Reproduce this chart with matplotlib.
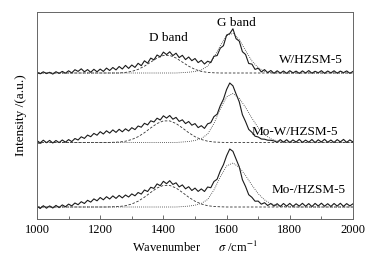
import numpy as np
import matplotlib
matplotlib.use("Agg")
import matplotlib.pyplot as plt

plt.rcParams['font.family'] = ['Liberation Serif', 'DejaVu Serif']
plt.rcParams['mathtext.fontset'] = 'stix'

# Raman spectra, wavenumber 1000-2000 cm-1, step 10 (relative to each baseline)
wavenumber = np.arange(1000, 2001, 10)

w_hzsm5 = [0.9, -0.8, 1.2, -0.6, 0.7, -1.1, 1.3, -0.4, 1.6, -0.2,
           2.2, 0.1, 3.3, 1.6, 4.2, 1.2, 3.4, 0.7, 3.7, 1.2,
           3.9, 1.6, 4.9, 2.5, 5.5, 3.1, 6.5, 4.0, 7.6, 4.6,
           8.0, 5.6, 9.7, 7.3, 12.2, 9.8, 14.9, 13.1, 18.0, 16.1,
           20.9, 18.4, 21.2, 17.4, 19.8, 15.4, 17.7, 13.4, 16.0, 12.3,
           14.5, 10.4, 12.6, 9.0, 11.8, 10.4, 16.8, 17.4, 24.8, 27.3,
           37.9, 39.4, 44.2, 34.3, 31.9, 21.3, 18.5, 9.5, 8.9, 3.6,
           4.8, 1.1, 3.4, 0.3, 2.5, -0.3,
           2.2, -0.1, 2.0, -0.3, 2.3, 0.1, 1.9, -0.4, 2.1, 0.0, 2.4, -0.2, 1.7,
           0.2, 2.3, -0.3, 2.0, 0.1, 2.2, -0.2, 1.9, 0.3, 2.1, -0.3, 1.6]

mow_hzsm5 = [1.9, -0.4, 2.3, -0.2, 2.1, -0.5, 2.0, -0.1, 2.5, 0.3,
             2.9, 0.9, 4.0, 2.5, 5.7, 4.1, 7.4, 5.8, 9.1, 7.3,
             10.8, 8.5, 11.7, 9.4, 12.6, 10.1, 13.2, 10.7, 13.7, 11.5,
             14.8, 12.9, 16.5, 15.3, 19.2, 17.6, 21.7, 20.5, 24.3, 22.5,
             26.7, 24.4, 27.0, 23.3, 25.1, 21.1, 22.7, 18.9, 21.0, 17.3,
             18.9, 14.9, 16.8, 14.1, 18.7, 19.8, 25.9, 28.3, 36.8, 43.3,
             53.0, 59.5, 56.7, 48.5, 40.7, 27.8, 20.9, 13.1, 10.2, 6.3,
             5.5, 3.5, 3.3, 2.3, 2.2, 1.6,
             0.2, 2.9, 0.3, 2.8, 0.0, 2.6, 0.4, 3.1, 0.1, 2.4, 0.3, 3.0, -0.1,
             2.7, 0.5, 3.2, 0.2, 2.5, 0.0, 2.9, 0.6, 3.1, 0.1, 2.6, 0.5]

mo_hzsm5 = [0.9, -1.5, 1.3, -1.2, 1.1, -1.0, 1.6, -0.6, 2.1, 0.2,
            2.9, 1.1, 4.0, 2.3, 5.3, 3.5, 6.7, 4.9, 8.1, 6.2,
            9.5, 7.2, 10.3, 8.0, 11.1, 8.6, 11.6, 9.1, 12.0, 10.0,
            13.1, 11.2, 14.5, 12.9, 17.0, 15.5, 19.7, 18.6, 23.1, 21.3,
            25.7, 23.3, 26.3, 22.6, 24.2, 20.1, 22.1, 18.2, 20.3, 16.5,
            18.9, 15.6, 18.1, 15.5, 20.0, 19.3, 25.5, 27.8, 36.0, 42.3,
            51.2, 58.0, 55.7, 47.9, 40.2, 27.3, 20.5, 12.3, 9.7, 5.8,
            5.9, 2.8, 4.3, 1.5, 3.5, 0.9,
            3.3, 0.5, 3.5, 0.8, 3.6, 0.6, 3.2, 0.9, 3.7, 0.7, 3.4, 0.4, 3.6,
            1.0, 3.8, 0.8, 3.3, 0.5, 3.5, 0.9, 3.7, 0.6, 3.4, 1.1, 3.2]

# fitted components, step 20
comp_x = np.arange(1000, 2001, 20)

d_w = [0]*14 + [0.6, 1.6, 3.6, 6.8, 10.9, 15.0, 17.6, 17.6, 15.0, 10.9,
                6.8, 3.6, 1.6, 0.6, 0.2] + [0]*22
g_w = [0]*23 + [0.4, 0.8, 1.5, 3.0, 6.9, 15.6, 27.3, 37.3, 39.7, 33.5,
                22.5, 12.1, 5.2, 1.8, 0.5, 0.1] + [0]*12

d_mow = [0]*12 + [0.2, 0.5, 1.3, 3.0, 5.8, 9.8, 14.6, 19.0, 21.6, 21.6,
                  19.0, 14.6, 9.8, 5.8, 3.0, 1.3, 0.5, 0.2] + [0]*21
g_mow = [0]*23 + [0.5, 1.0, 2.0, 4.0, 8.4, 19.0, 33.4, 45.7, 49.0, 44.2,
                  35.1, 24.4, 14.8, 7.9, 3.7, 1.5, 0.6, 0.2] + [0]*10

d_mo = [0]*12 + [0.2, 0.5, 1.3, 3.0, 5.8, 9.8, 14.6, 19.0, 21.6, 21.6,
                 19.0, 14.6, 9.8, 5.8, 3.0, 1.3, 0.5, 0.2] + [0]*21
g_mo = [0]*23 + [0.4, 0.9, 1.8, 3.6, 7.5, 17.1, 30.0, 41.0, 44.0, 39.7,
                 31.5, 21.9, 13.3, 7.1, 3.3, 1.3, 0.5, 0.2] + [0]*10

labels = ['W/HZSM-5', 'Mo-W/HZSM-5', 'Mo-/HZSM-5']
offsets = [146, 76.5, 12]
spectra = [w_hzsm5, mow_hzsm5, mo_hzsm5]
d_parts = [d_w, d_mow, d_mo]
g_parts = [g_w, g_mow, g_mo]
label_pos = [(1866, 159), (1815, 87), (1858, 29)]

fig = plt.figure(figsize=(3.91, 2.60), dpi=100)
ax = fig.add_axes([37/391, 41/260, 316/391, 207/260])

for spec, d, g, off, lab, pos in zip(spectra, d_parts, g_parts, offsets, labels, label_pos):
    ax.plot(wavenumber, np.array(spec) + off, color='#1a1a1a', lw=0.8)
    ax.plot(comp_x, np.array(d) + off, color='#333333', lw=0.6, ls=(0, (3, 2)))
    ax.plot(comp_x, np.array(g) + off, color='#333333', lw=0.6, ls=(0, (1, 1.5)))
    ax.text(pos[0], pos[1], lab, ha='center', va='center', fontsize=9.5)

ax.text(1415, 181, 'D band', ha='center', va='center', fontsize=9.5)
ax.text(1630, 196, 'G band', ha='center', va='center', fontsize=9.5)

ax.set_xlim(1000, 2000)
ax.set_ylim(0, 207)
ax.set_xticks(np.arange(1000, 2001, 200))
ax.set_xticks(np.arange(1100, 2000, 200), minor=True)
ax.set_yticks(offsets)
ax.set_yticklabels([])
ax.tick_params(direction='in', length=3, width=0.6, colors='#555555', labelcolor='black', labelsize=9)
ax.tick_params(which='minor', direction='in', length=2, width=0.6, colors='#555555')
for sp in ax.spines.values():
    sp.set_color('#666666')
    sp.set_linewidth(0.7)

ax.set_xlabel('Wavenumber      $\\sigma$ /cm$^{-1}$', fontsize=9, labelpad=3)
ax.set_ylabel('Intensity /(a.u.)', fontsize=9.5, labelpad=4)

fig.savefig('out.png', dpi=100)
